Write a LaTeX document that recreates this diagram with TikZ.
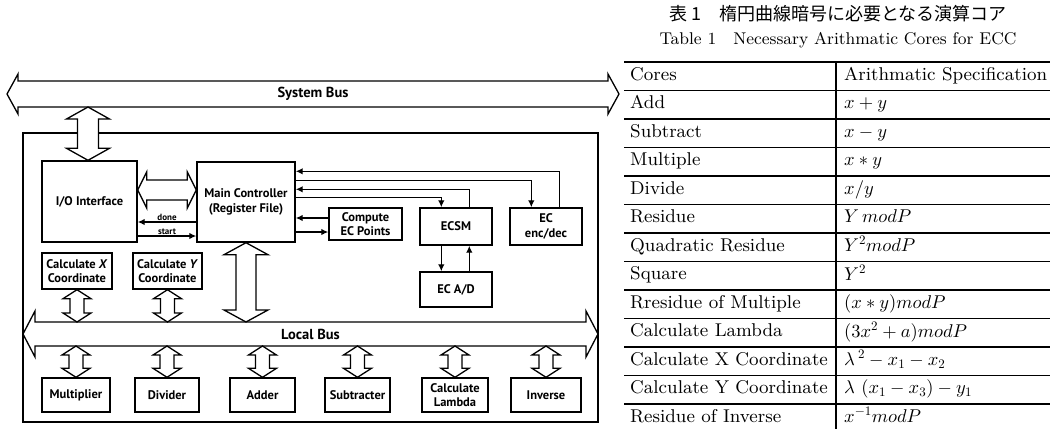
\documentclass[tikz,border=0pt]{standalone}
\usepackage{fontspec}
\newfontfamily\diagfont{PT Sans}
\newfontfamily\jpfont{Noto Sans CJK JP}
\newfontfamily\tabfont{lmroman9-regular.otf}
% scalable math fonts so formulas follow the large table size
\DeclareFontFamily{OML}{cmm}{\skewchar\font'177}
\DeclareFontShape{OML}{cmm}{m}{it}{<->cmmi10}{}
\DeclareFontFamily{OMS}{cmsy}{\skewchar\font'60}
\DeclareFontShape{OMS}{cmsy}{m}{n}{<->cmsy10}{}
\DeclareFontFamily{OT1}{cmr}{}
\DeclareFontShape{OT1}{cmr}{m}{n}{<->cmr10}{}
\DeclareMathSizes{18.5}{18.5}{13}{10}
\usetikzlibrary{calc,arrows.meta}

% vertical double block arrow: top tip, bottom tip, shaft half-width, head half-width, head length
\newcommand\vblock[5]{%
  \draw[blockarrow] (#1) -- ++(#4,#5) -- ++({#3-#4},0) -- ($(#2)+(#3,-#5)$)
    -- ++({#4-#3},0) -- (#2) -- ++(-#4,-#5) -- ++({#4-#3},0)
    -- ($(#1)+(-#3,#5)$) -- ++({#3-#4},0) -- cycle;}
% horizontal double block arrow: left tip, right tip, shaft half-height, head half-height, head length
\newcommand\hblock[5]{%
  \draw[blockarrow] (#1) -- ++(#5,-#4) -- ++(0,{#4-#3}) -- ($(#2)+(-#5,-#3)$)
    -- ++(0,{#3-#4}) -- (#2) -- ++(-#5,#4) -- ++(0,{#3-#4})
    -- ($(#1)+(#5,#3)$) -- ++(0,{#4-#3}) -- cycle;}

\tikzset{
  unit/.style={draw, line width=1.4pt, inner sep=0pt, align=center,
    font=\diagfont\bfseries\fontsize{12.5}{14.5}\selectfont},
  blockarrow/.style={draw, line width=1.3pt, line join=miter, fill=white},
  sig/.style={line width=1.3pt, -{Latex[length=7pt,width=6.5pt]}},
  lbl/.style={inner sep=1pt, font=\diagfont\bfseries\fontsize{9}{10}\selectfont},
  buslabel/.style={font=\diagfont\bfseries\fontsize{14.5}{16}\selectfont},
  cell/.style={anchor=west, inner sep=0pt, font=\tabfont\fontsize{18.5}{21}\selectfont},
  rule/.style={line width=1.1pt},
}

\begin{document}
\begin{tikzpicture}[x=1pt,y=-1pt]
\useasboundingbox (0,0) rectangle (1052,429);

% ---------------- architecture ----------------
% system bus
\coordinate (sbL) at (7,94);
\coordinate (sbR) at (619,94);
\hblock{sbL}{sbR}{13}{20}{11}
\node[buslabel] (sblabel) at ($(sbL)!0.5!(sbR)$) {System Bus};

% chip outline
\draw[line width=1.9pt] (23,133) rectangle (598,422);

% processing units
\node[unit, minimum width=95, minimum height=81] (io) at (89.5,201.5) {I/O Interface};
\node[unit, minimum width=98, minimum height=80] (mc) at (246,202) {Main Controller\\(Register File)};
\node[unit, minimum width=73, minimum height=32] (comp) at (365.5,224) {Compute\\EC Points};
\node[unit, minimum width=72, minimum height=37] (ecsm) at (456,226.5) {ECSM};
\node[unit, minimum width=72, minimum height=37] (ecenc) at (546,226.5) {EC\\enc/dec};
\node[unit, minimum width=72, minimum height=35] (ecad) at (456,289.5) {EC A/D};
\node[unit, minimum width=70, minimum height=36] (cx) at (77,271) {Calculate \textit{X}\\Coordinate};
\node[unit, minimum width=69, minimum height=36] (cy) at (167.5,271) {Calculate \textit{Y}\\Coordinate};

\node[unit, minimum width=68, minimum height=34] (mul) at (76,395) {Multiplier};
\node[unit, minimum width=64, minimum height=34] (div) at (167,395) {Divider};
\node[unit, minimum width=65, minimum height=34] (add) at (262.5,395) {Adder};
\node[unit, minimum width=65, minimum height=34] (sub) at (357.5,395) {Subtracter};
\node[unit, minimum width=66, minimum height=34] (lam) at (455,395) {Calculate\\Lambda};
\node[unit, minimum width=70, minimum height=34] (inv) at (546,395) {Inverse};

% local bus
\coordinate (lbL) at (23,334);
\coordinate (lbR) at (598,334);
\hblock{lbL}{lbR}{12}{23}{12}
\node[buslabel] (lblabel) at ($(lbL)!0.5!(lbR)$) {Local Bus};

% system bus <-> I/O interface
\coordinate (ioT) at ($(io.north |- sbL)+(-1.5,13)$);
\coordinate (ioB) at ($(io.north)+(-1.5,0)$);
\vblock{ioT}{ioB}{10.5}{21.5}{12}

% I/O interface <-> main controller
\coordinate (imL) at ($(io.east)+(0,-11.5)$);
\coordinate (imR) at (imL -| mc.west);
\hblock{imL}{imR}{10}{18}{9}

% main controller <-> local bus
\coordinate (mcT) at (mc.south);
\coordinate (mcB) at ($(mc.south |- lbL)+(0,-12)$);
\vblock{mcT}{mcB}{10}{22}{12}

% coordinate units <-> local bus
\coordinate (cxT) at (cx.south);
\coordinate (cxB) at ($(cx.south |- lbL)+(0,-12)$);
\vblock{cxT}{cxB}{7}{14}{9}
\coordinate (cyT) at (cy.south);
\coordinate (cyB) at ($(cy.south |- lbL)+(0,-12)$);
\vblock{cyT}{cyB}{7}{14}{9}

% arithmetic units <-> local bus
\foreach \u in {mul,div,add,sub,lam,inv}{
  \coordinate (\u T) at ($(\u.north |- lbL)+(0,12)$);
  \vblock{\u T}{\u.north}{7}{14}{9}
}

% handshake signals
\coordinate (dn) at ($(mc.west)+(0,20)$);
\draw[sig] (dn) -- (dn -| io.east) node[lbl, midway, above] (donelbl) {done};
\coordinate (st) at ($(io.east)+(0,34.5)$);
\draw[sig] (st) -- (st -| mc.west) node[lbl, midway, above] (startlbl) {start};

% main controller <-> point computation
\coordinate (cp1) at ($(comp.west)+(0,-6)$);
\draw[sig] (cp1) -- (cp1 -| mc.east);
\coordinate (cp2) at ($(comp.west)+(0,8)$);
\draw[sig] (cp2 -| mc.east) -- (cp2);

% main controller <-> ECSM and EC enc/dec
\draw[sig] ($(ecenc.north west)+(50,0)$) |- ($(mc.north east)+(0,10)$);
\draw[sig] ($(mc.north east)+(0,19)$) -| ($(ecenc.north west)+(22,0)$);
\draw[sig] ($(ecsm.north west)+(50,0)$) |- ($(mc.north east)+(0,28)$);
\draw[sig] ($(mc.north east)+(0,36)$) -| ($(ecsm.north west)+(22,0)$);

% ECSM <-> EC A/D
\draw[sig] ($(ecsm.south west)+(22,0)$) -- ($(ecad.north west)+(22,0)$);
\draw[sig] ($(ecad.north west)+(50,0)$) -- ($(ecsm.south west)+(50,0)$);

% ---------------- table ----------------
\node[font=\jpfont\fontsize{18}{20}\selectfont] (jtitle) at (838,14)
  {表 1\hspace{1em}楕円曲線暗号に必要となる演算コア};
\node[font=\tabfont\fontsize{17}{19}\selectfont] (etitle) at (838,40)
  {Table 1\hspace{1em}Necessary Arithmatic Cores for ECC};

\draw[line width=1.6pt] (624,62) -- (1050,62);
\foreach \i in {1,...,12}{
  \draw[rule] (624,{62+28.5*\i}) -- (1050,{62+28.5*\i});
}
\draw[rule] (836,62) -- (836,429);

\foreach \l/\r [count=\i from 0] in {
  {Cores}/{Arithmatic Specification},
  {Add}/{$x+y$},
  {Subtract}/{$x-y$},
  {Multiple}/{$x*y$},
  {Divide}/{$x/y$},
  {Residue}/{$Y\,modP$},
  {Quadratic Residue}/{$Y^2modP$},
  {Square}/{$Y^2$},
  {Rresidue of Multiple}/{$(x*y)modP$},
  {Calculate Lambda}/{$(3x^2+a)modP$},
  {Calculate X Coordinate}/{$\lambda\,^2-x_1-x_2$},
  {Calculate Y Coordinate}/{$\lambda\ (x_1-x_3)-y_1$},
  {Residue of Inverse}/{$x^{-1}modP$}}{
  \node[cell] (tl\i) at (630,{76.25+28.5*\i}) {\strut\l};
  \node[cell] (tr\i) at (844,{76.25+28.5*\i}) {\strut\r};
}
\end{tikzpicture}
\end{document}
